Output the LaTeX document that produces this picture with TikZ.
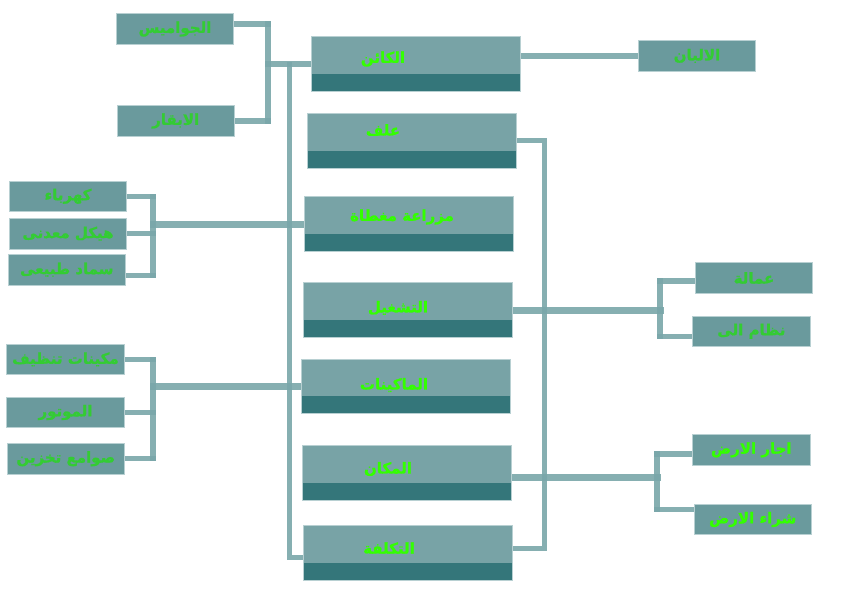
\documentclass[tikz,border=0pt]{standalone}
\usepackage{fontspec}
\usepackage{xcolor}
\usepackage{tikz}
\usetikzlibrary{backgrounds}
\TeXXeTstate=1
\newfontfamily\arabicfont[Script=Arabic, BoldFeatures={FakeBold=1.2}]{DejaVu Sans}
\newcommand{\artxt}[1]{{\arabicfont\bfseries\beginR #1\endR}}
\definecolor{boxtop}{HTML}{78A3A6}
\definecolor{boxbot}{HTML}{34767A}
\definecolor{smallfill}{HTML}{6A9A9D}
\definecolor{boxedge}{HTML}{B8D0D2}
\definecolor{conncol}{HTML}{79A6A9}
\definecolor{brightgreen}{HTML}{33FF00}
\definecolor{softgreen}{HTML}{33CC33}

\begin{document}
\begin{tikzpicture}[x=1pt,y=-1pt,
  mainbox/.style={draw=boxedge, line width=0.8pt, fill=boxtop, minimum width=209pt, minimum height=54.5pt, inner sep=0pt,
    path picture={\fill[boxbot] (path picture bounding box.south west) rectangle ([yshift=17pt]path picture bounding box.south east);}},
  mainlbl/.style={text=brightgreen, font=\fontsize{15}{17}\selectfont, inner sep=0pt},
  smallbox/.style={draw=boxedge, line width=0.8pt, fill=smallfill, minimum width=117.5pt, minimum height=30.5pt, inner sep=0pt, text=softgreen, font=\fontsize{15}{17}\selectfont},
  conn/.style={draw=conncol, line width=5.5pt, line cap=rect, opacity=0.9},
  trunk/.style={conn, line width=7pt},
  rail/.style={conn, line width=5pt}]
\useasboundingbox (0,0) rectangle (842,595);
%MIDDLE
\node[mainbox] (kain) at (415.7,64) {};
\node[mainbox] (alaf) at (412.3,140.7) {};
\node[mainbox] (ziraa) at (408.5,224) {};
\node[mainbox] (tashghil) at (408.3,310) {};
\node[mainbox] (makinat) at (405.8,386.2) {};
\node[mainbox] (makan) at (407,472.7) {};
\node[mainbox] (taklifa) at (407.7,552.8) {};
\node[mainlbl] (kain-l) at (383,59) {\artxt{الكائن}};
\node[mainlbl] (alaf-l) at (383,130) {\artxt{علف}};
\node[mainlbl] (ziraa-l) at (402,217) {\artxt{مزراعة مغطاة}};
\node[mainlbl] (tashghil-l) at (398,308) {\artxt{التشغيل}};
\node[mainlbl] (makinat-l) at (394,385) {\artxt{الماكينات}};
\node[mainlbl] (makan-l) at (388,469) {\artxt{المكان}};
\node[mainlbl] (taklifa-l) at (389,548) {\artxt{التكلفة}};
%LEFT
\node[smallbox] (jawamis) at (175,29) {\artxt{الجواميس}};
\node[smallbox] (abqar) at (175.7,121) {\artxt{الابقار}};
\node[smallbox] (kahraba) at (68,196.3) {\artxt{كهرباء}};
\node[smallbox] (haykal) at (68,233.7) {\artxt{هيكل معدنى}};
\node[smallbox] (samad) at (66.8,269.7) {\artxt{سماد طبيعى}};
\node[smallbox] (mukinat) at (65.5,359.3) {\artxt{مكينات تنظيف}};
\node[smallbox] (motor) at (65.5,412.5) {\artxt{الموتور}};
\node[smallbox] (sawami) at (65.8,458.7) {\artxt{صوامع تخزين}};
%RIGHT
\node[smallbox] (albaan) at (697,55.9) {\artxt{الالبان}};
\node[smallbox] (amala) at (754,278) {\artxt{عمالة}};
\node[smallbox] (nizam) at (751.4,331.3) {\artxt{نظام الى}};
\node[smallbox, text=brightgreen] (ijar) at (751.3,449.8) {\artxt{اجار الارض}};
\node[smallbox, text=brightgreen] (shira) at (752.7,519.5) {\artxt{شراء الارض}};
% Bars
\coordinate (cowbus) at (268,64);
\coordinate (leftrail) at (289,64);
\coordinate (rightrail) at (544,300);
\coordinate (farmbus) at (153,224);
\coordinate (machbus) at (153,386.2);
\coordinate (workbus) at (660,310);
\coordinate (landbus) at (657,477.7);
\begin{scope}[on background layer]
\draw[conn] ([yshift=5pt]jawamis.east) -- ([yshift=5pt]jawamis.east -| cowbus);
\draw[conn] (abqar.east) -- (abqar.east -| cowbus);
\draw[conn] ([yshift=5pt]jawamis.east -| cowbus) -- (abqar.east -| cowbus);
\draw[conn] (cowbus) -- (kain.west);
\draw[rail] (leftrail) |- ([yshift=-5pt]taklifa.west);
\draw[rail] (alaf.east) -| (rightrail) |- ([yshift=4.5pt]taklifa.east);
\draw[conn] (kain.east |- albaan.west) -- (albaan.west);
\draw[conn] (kahraba.east) -- (kahraba.east -| farmbus);
\draw[conn] (haykal.east) -- (haykal.east -| farmbus);
\draw[conn] ([yshift=-6pt]samad.east) -- ([yshift=-6pt]samad.east -| farmbus);
\draw[conn] (kahraba.east -| farmbus) -- ([yshift=-6pt]samad.east -| farmbus);
\draw[trunk] (farmbus) -- (ziraa.west);
\draw[conn] (mukinat.east) -- (mukinat.east -| machbus);
\draw[conn] (motor.east) -- (motor.east -| machbus);
\draw[conn] (sawami.east) -- (sawami.east -| machbus);
\draw[conn] (mukinat.east -| machbus) -- (sawami.east -| machbus);
\draw[trunk] (machbus) -- (makinat.west);
\draw[trunk] (tashghil.east) -- (workbus);
\draw[conn] ([yshift=-3pt]amala.west) -- ([yshift=-3pt]amala.west -| workbus);
\draw[conn] ([yshift=-5pt]nizam.west) -- ([yshift=-5pt]nizam.west -| workbus);
\draw[conn] ([yshift=-3pt]amala.west -| workbus) -- ([yshift=-5pt]nizam.west -| workbus);
\draw[trunk] ([yshift=-5pt]makan.east) -- (landbus);
\draw[conn] ([yshift=-4pt]ijar.west) -- ([yshift=-4pt]ijar.west -| landbus);
\draw[conn] ([yshift=10pt]shira.west) -- ([yshift=10pt]shira.west -| landbus);
\draw[conn] ([yshift=-4pt]ijar.west -| landbus) -- ([yshift=10pt]shira.west -| landbus);
\end{scope}
\end{tikzpicture}
\end{document}
